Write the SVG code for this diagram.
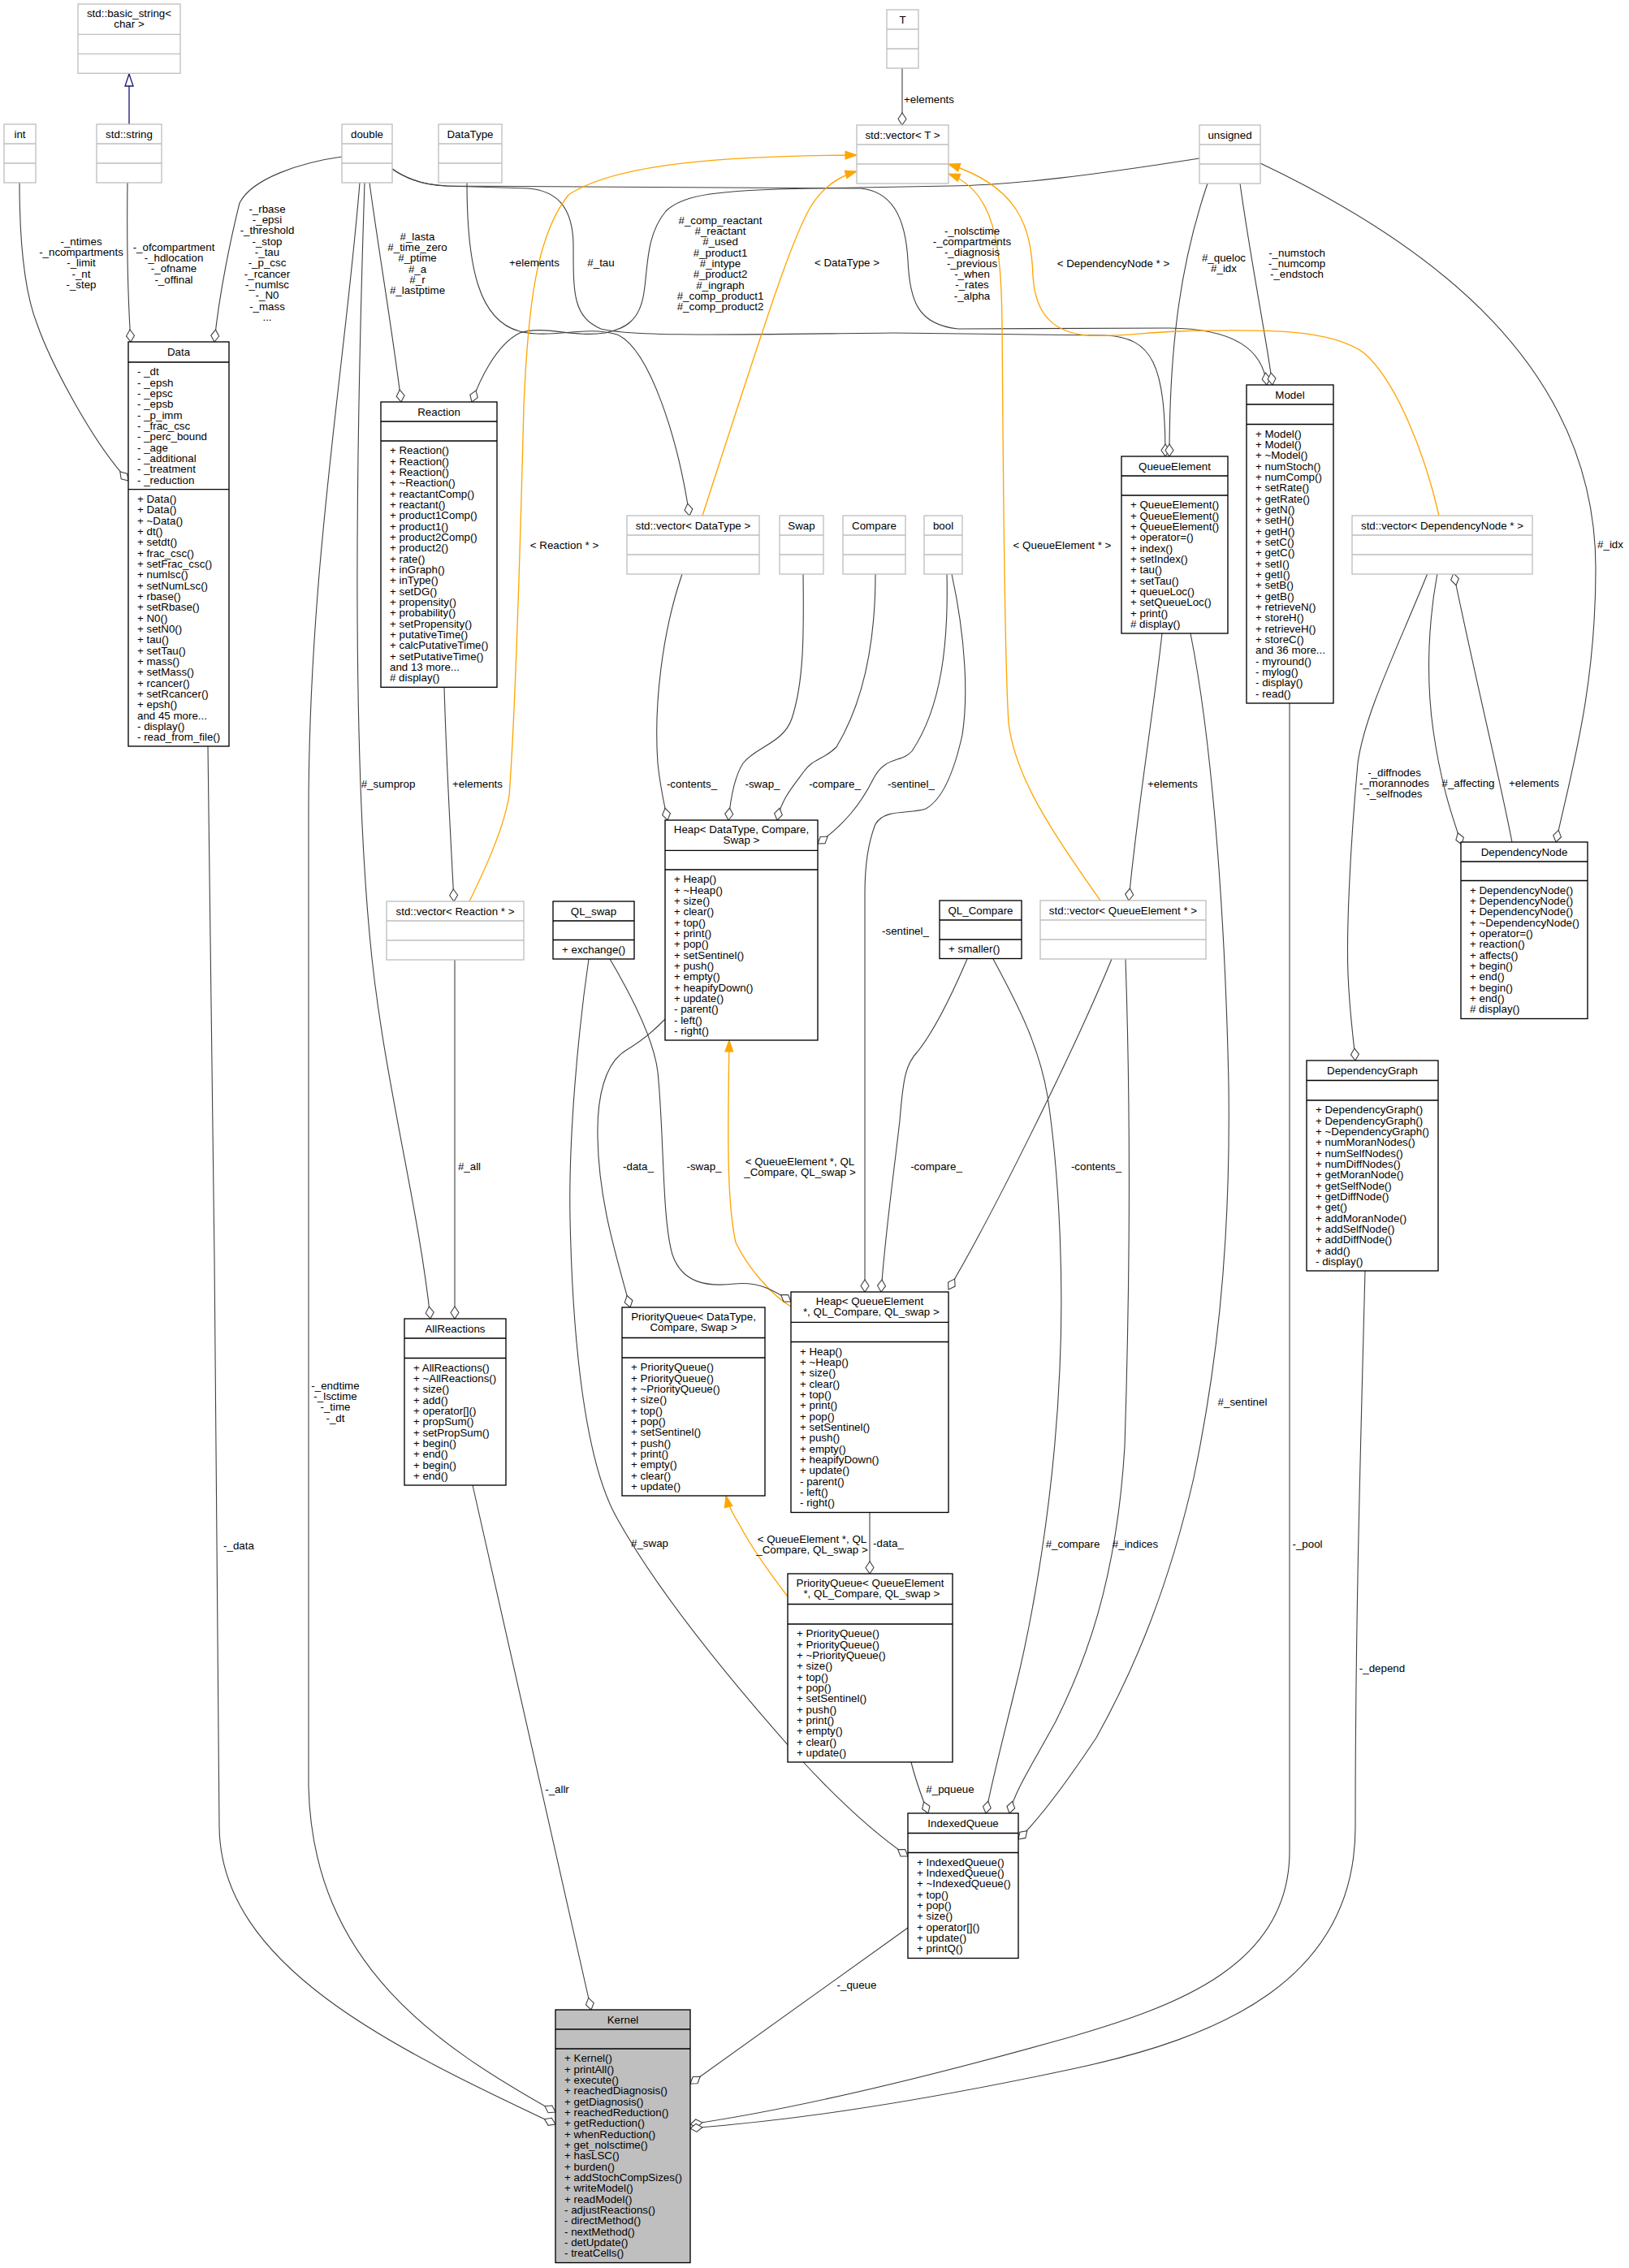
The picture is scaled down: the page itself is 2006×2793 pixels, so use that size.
<svg xmlns="http://www.w3.org/2000/svg" width="2006" height="2793" viewBox="0 0 2006 2793">
<style>
.b{fill:#fff;stroke:#000;stroke-width:1.33}
.g{fill:#fff;stroke:#bfbfbf;stroke-width:1.33}
.k{fill:#bfbfbf;stroke:#000;stroke-width:1.33}
.sb{fill:none;stroke:#000;stroke-width:1.33}
.sg{fill:none;stroke:#bfbfbf;stroke-width:1.33}
text{font-family:"Liberation Sans",Arial,Helvetica,sans-serif;font-size:13.33px;fill:#000}
.c{text-anchor:middle}
.e{fill:none;stroke:#404040;stroke-width:1.1;marker-end:url(#d)}
.o{fill:none;stroke:#ffa500;stroke-width:1.33;marker-end:url(#a)}
.i{fill:none;stroke:#191970;stroke-width:1.33;marker-end:url(#t)}
</style>
<defs>
<marker id="d" markerUnits="userSpaceOnUse" viewBox="-16 -6 17 12" markerWidth="17" markerHeight="12" refX="0" refY="0" orient="auto"><path d="M0,0 L-7.5,-5 L-15,0 L-7.5,5 Z" fill="#fff" stroke="#404040" stroke-width="1.1"/></marker>
<marker id="a" markerUnits="userSpaceOnUse" viewBox="-16 -7 17 14" markerWidth="17" markerHeight="14" refX="0" refY="0" orient="auto"><path d="M0,0 L-14,-5 L-14,5 Z" fill="#ffa500" stroke="#ffa500" stroke-width="1"/></marker>
<marker id="t" markerUnits="userSpaceOnUse" viewBox="-17 -7 18 14" markerWidth="18" markerHeight="14" refX="0" refY="0" orient="auto"><path d="M0,0 L-15,-5 L-15,5 Z" fill="#fff" stroke="#191970" stroke-width="1.33"/></marker>
</defs>
<rect width="2006" height="2793" fill="#fff"/>

<g id="edges">
<path class="i" d="M159,153 L159,91"/>
<path class="e" d="M1111,84 L1111,154"/>
<path class="e" d="M24,225 C24,300 30,360 46,400 C60,440 110,540 158,592"/>
<path class="e" d="M157,225 C156,300 157,360 161,421"/>
<path class="e" d="M421,193 C370,200 310,220 295,250 C285,290 270,360 264,421"/>
<path class="e" d="M455,225 C465,300 485,420 494,495"/>
<path class="e" d="M449,225 C440,500 432,900 455,1150 C470,1320 515,1480 530,1624"/>
<path class="e" d="M443,225 C425,450 380,700 380,1000 L380,2200 C385,2420 540,2520 684,2601"/>
<path class="e" d="M256,919 C262,1300 268,1900 270,2250 C272,2420 480,2520 684,2616"/>
<path class="e" d="M575,225 C575,330 590,395 640,408 C680,418 720,400 760,412 C800,430 835,540 849,635"/>
<path class="e" d="M1477,195 C1350,215 1250,228 1170,229 L1000,232 C880,234 840,240 820,260 C795,290 798,330 793,360 C788,395 770,405 745,410 C705,416 670,400 640,410 C610,425 590,470 581,495"/>
<path class="e" d="M483,208 C500,220 520,228 550,229 L650,232 C690,235 705,260 706,300 C706,360 705,390 740,405 C780,415 900,412 1100,410 L1360,413 C1420,415 1435,450 1435,562"/>
<path class="e" d="M483,208 C500,220 520,228 550,229 L1060,232 C1100,236 1115,270 1118,320 C1120,370 1130,400 1180,405 L1440,404 C1520,405 1555,430 1560,474"/>
<path class="e" d="M1487,226 C1455,320 1440,420 1440,562"/>
<path class="e" d="M1527,226 C1540,320 1560,420 1567,474"/>
<path class="e" d="M1552,201 C1760,300 1965,450 1965,700 C1965,850 1935,950 1916,1037"/>
<path class="o" d="M578,1110 C600,1065 620,1020 627,980 C633,900 640,700 645,500 C650,380 660,290 700,240 C760,200 900,192 1055,191"/>
<path class="o" d="M865,635 L912,490 C945,390 975,295 998,255 C1012,232 1030,218 1055,211"/>
<path class="o" d="M1772,635 C1755,560 1720,470 1680,435 C1640,405 1560,405 1450,408 C1400,410 1380,415 1340,413 C1300,410 1275,390 1272,340 C1270,280 1255,230 1168,202"/>
<path class="o" d="M1355,1109 C1300,1030 1250,960 1242,890 C1236,800 1235,500 1234,400 C1233,300 1225,235 1168,214"/>
<path class="o" d="M974,1609 C950,1595 920,1560 906,1530 C895,1480 896,1400 898,1281"/>
<path class="o" d="M970,1966 C950,1940 925,1905 912,1880 C903,1865 897,1855 894,1842"/>
<path class="e" d="M547,846 C550,950 556,1050 559,1110"/>
<path class="e" d="M560,1181 L560,1624"/>
<path class="e" d="M840,707 C815,780 805,870 810,940 C813,970 818,990 822,1010"/>
<path class="e" d="M989,706 C990,780 990,840 975,885 C965,915 930,920 915,940 C905,955 900,980 897,1010"/>
<path class="e" d="M1078,707 C1078,800 1060,870 1030,920 C1015,935 1000,935 990,950 C975,970 962,985 957,1010"/>
<path class="e" d="M1166,707 C1168,790 1160,870 1123,925 C1110,940 1090,930 1075,960 C1060,990 1040,1015 1007,1039"/>
<path class="e" d="M1172,707 C1190,790 1192,860 1185,905 C1175,950 1160,985 1140,996 C1120,1003 1090,995 1078,1015 C1068,1040 1065,1070 1065,1100 L1065,1591"/>
<path class="e" d="M751,1181 C780,1230 805,1280 810,1320 C818,1400 815,1500 828,1545 C840,1580 870,1585 905,1581 C935,1578 955,1590 974,1603"/>
<path class="e" d="M819,1255 C800,1275 785,1285 770,1294 C745,1310 735,1350 736,1400 C737,1480 760,1550 776,1610"/>
<path class="e" d="M1191,1181 C1170,1230 1150,1270 1130,1295 C1115,1310 1112,1330 1108,1380 C1100,1450 1090,1520 1085,1591"/>
<path class="e" d="M1369,1181 C1320,1300 1220,1500 1168,1588"/>
<path class="e" d="M1071,1863 L1071,1938"/>
<path class="e" d="M1122,2170 C1128,2195 1136,2215 1143,2233"/>
<path class="e" d="M725,1181 C712,1270 700,1400 702,1500 C705,1650 720,1800 760,1870 C810,1960 900,2070 980,2160 C1030,2215 1080,2260 1118,2286"/>
<path class="e" d="M1223,1181 C1255,1240 1280,1290 1290,1350 C1305,1450 1310,1580 1305,1686 C1298,1850 1270,2000 1250,2080 C1238,2130 1222,2190 1214,2233"/>
<path class="e" d="M1386,1181 C1390,1300 1394,1500 1385,1781 C1375,1950 1335,2050 1300,2120 C1270,2175 1250,2205 1243,2233"/>
<path class="e" d="M1466,780 C1490,900 1508,1100 1513,1335 C1516,1550 1495,1700 1470,1820 C1440,1950 1400,2050 1350,2140 C1310,2200 1280,2240 1254,2265"/>
<path class="e" d="M1431,780 C1420,880 1400,1000 1390,1109"/>
<path class="e" d="M1588,866 L1588,2280 C1588,2420 1450,2470 1320,2508 C1100,2570 960,2600 850,2616"/>
<path class="e" d="M1681,1565 C1675,1800 1669,2000 1669,2250 C1669,2440 1500,2510 1320,2548 C1100,2595 960,2612 850,2621"/>
<path class="e" d="M1118,2374 L850,2566"/>
<path class="e" d="M582,1829 L728,2475"/>
<path class="e" d="M1758,706 C1720,800 1680,880 1672,940 C1662,1050 1658,1150 1660,1200 C1662,1250 1667,1280 1669,1306"/>
<path class="e" d="M1770,706 C1760,760 1755,830 1765,900 C1775,970 1790,1010 1800,1040"/>
<path class="e" d="M1862,1037 C1845,950 1820,850 1790,706"/>
</g>

<g id="labels" class="c">
<text x="100" y="301.7">-_ntimes<tspan x="100" dy="13.33">-_ncompartments</tspan><tspan x="100" dy="13.33">-_limit</tspan><tspan x="100" dy="13.33">-_nt</tspan><tspan x="100" dy="13.33">-_step</tspan></text>
<text x="214" y="308.7">-_ofcompartment<tspan x="214" dy="13.33">-_hdlocation</tspan><tspan x="214" dy="13.33">-_ofname</tspan><tspan x="214" dy="13.33">-_offinal</tspan></text>
<text x="329" y="261.7">-_rbase<tspan x="329" dy="13.33">-_epsi</tspan><tspan x="329" dy="13.33">-_threshold</tspan><tspan x="329" dy="13.33">-_stop</tspan><tspan x="329" dy="13.33">-_tau</tspan><tspan x="329" dy="13.33">-_p_csc</tspan><tspan x="329" dy="13.33">-_rcancer</tspan><tspan x="329" dy="13.33">-_numlsc</tspan><tspan x="329" dy="13.33">-_N0</tspan><tspan x="329" dy="13.33">-_mass</tspan><tspan x="329" dy="13.33">...</tspan></text>
<text x="514" y="295.7">#_lasta<tspan x="514" dy="13.33">#_time_zero</tspan><tspan x="514" dy="13.33">#_ptime</tspan><tspan x="514" dy="13.33">#_a</tspan><tspan x="514" dy="13.33">#_r</tspan><tspan x="514" dy="13.33">#_lastptime</tspan></text>
<text x="478" y="969.7">#_sumprop</text>
<text x="413" y="1710.7">-_endtime<tspan x="413" dy="13.33">-_lsctime</tspan><tspan x="413" dy="13.33">-_time</tspan><tspan x="413" dy="13.33">-_dt</tspan></text>
<text x="294" y="1907.7">-_data</text>
<text x="658" y="327.7">+elements</text>
<text x="887" y="275.7">#_comp_reactant<tspan x="887" dy="13.33">#_reactant</tspan><tspan x="887" dy="13.33">#_used</tspan><tspan x="887" dy="13.33">#_product1</tspan><tspan x="887" dy="13.33">#_intype</tspan><tspan x="887" dy="13.33">#_product2</tspan><tspan x="887" dy="13.33">#_ingraph</tspan><tspan x="887" dy="13.33">#_comp_product1</tspan><tspan x="887" dy="13.33">#_comp_product2</tspan></text>
<text x="740" y="327.7">#_tau</text>
<text x="1197" y="288.7">-_nolsctime<tspan x="1197" dy="13.33">-_compartments</tspan><tspan x="1197" dy="13.33">-_diagnosis</tspan><tspan x="1197" dy="13.33">-_previous</tspan><tspan x="1197" dy="13.33">-_when</tspan><tspan x="1197" dy="13.33">-_rates</tspan><tspan x="1197" dy="13.33">-_alpha</tspan></text>
<text x="1507" y="321.7">#_queloc<tspan x="1507" dy="13.33">#_idx</tspan></text>
<text x="1597" y="315.7">-_numstoch<tspan x="1597" dy="13.33">-_numcomp</tspan><tspan x="1597" dy="13.33">-_endstoch</tspan></text>
<text x="1983" y="674.7">#_idx</text>
<text x="1144" y="126.7">+elements</text>
<text x="695" y="675.7">&lt; Reaction * &gt;</text>
<text x="1043" y="327.7">&lt; DataType &gt;</text>
<text x="1371" y="328.7">&lt; DependencyNode * &gt;</text>
<text x="1308" y="675.7">&lt; QueueElement * &gt;</text>
<text x="985" y="1434.7">&lt; QueueElement *, QL<tspan x="985" dy="13.33">_Compare, QL_swap &gt;</tspan></text>
<text x="1000" y="1899.7">&lt; QueueElement *, QL<tspan x="1000" dy="13.33">_Compare, QL_swap &gt;</tspan></text>
<text x="588" y="969.7">+elements</text>
<text x="578" y="1440.7">#_all</text>
<text x="852" y="969.7">-contents_</text>
<text x="939" y="969.7">-swap_</text>
<text x="1028" y="969.7">-compare_</text>
<text x="1122" y="969.7">-sentinel_</text>
<text x="1115" y="1150.7">-sentinel_</text>
<text x="867" y="1440.7">-swap_</text>
<text x="786" y="1440.7">-data_</text>
<text x="1153" y="1440.7">-compare_</text>
<text x="1350" y="1440.7">-contents_</text>
<text x="1094" y="1904.7">-data_</text>
<text x="1170" y="2207.7">#_pqueue</text>
<text x="800" y="1904.7">#_swap</text>
<text x="1321" y="1905.7">#_compare</text>
<text x="1398" y="1905.7">#_indices</text>
<text x="1530" y="1730.7">#_sentinel</text>
<text x="1444" y="969.7">+elements</text>
<text x="1610" y="1905.7">-_pool</text>
<text x="1702" y="2058.7">-_depend</text>
<text x="1055" y="2448.7">-_queue</text>
<text x="686" y="2207.7">-_allr</text>
<text x="1717" y="955.7">-_diffnodes<tspan x="1717" dy="13.33">-_morannodes</tspan><tspan x="1717" dy="13.33">-_selfnodes</tspan></text>
<text x="1808" y="968.7">#_affecting</text>
<text x="1889" y="968.7">+elements</text>
</g>

<g id="n_basic_string"><rect class="g" x="96" y="5" width="126" height="85.3"/><path class="sg" d="M96,42.3H222M96,66.3H222"/><text class="c" x="159" y="21">std::basic_string&lt;<tspan x="159" dy="13.33">char &gt;</tspan></text></g>
<g id="n_int"><rect class="g" x="5" y="153" width="39" height="72"/><path class="sg" d="M5,177H44M5,201H44"/><text class="c" x="24.5" y="169.5">int</text></g>
<g id="n_string"><rect class="g" x="119" y="153" width="80" height="72"/><path class="sg" d="M119,177H199M119,201H199"/><text class="c" x="159" y="169.5">std::string</text></g>
<g id="n_double"><rect class="g" x="421" y="153" width="62" height="72"/><path class="sg" d="M421,177H483M421,201H483"/><text class="c" x="452" y="169.5">double</text></g>
<g id="n_DataType"><rect class="g" x="540" y="153" width="78" height="72"/><path class="sg" d="M540,177H618M540,201H618"/><text class="c" x="579" y="169.5">DataType</text></g>
<g id="n_T"><rect class="g" x="1092" y="12" width="39" height="72"/><path class="sg" d="M1092,36H1131M1092,60H1131"/><text class="c" x="1111.5" y="28.5">T</text></g>
<g id="n_vectorT"><rect class="g" x="1055" y="154" width="113" height="72"/><path class="sg" d="M1055,178H1168M1055,202H1168"/><text class="c" x="1111.5" y="170.5">std::vector&lt; T &gt;</text></g>
<g id="n_unsigned"><rect class="g" x="1477" y="154" width="75" height="72"/><path class="sg" d="M1477,178H1552M1477,202H1552"/><text class="c" x="1514.5" y="170.5">unsigned</text></g>
<g id="n_vectorDataType"><rect class="g" x="772" y="635" width="163" height="72"/><path class="sg" d="M772,659H935M772,683H935"/><text class="c" x="853.5" y="651.5">std::vector&lt; DataType &gt;</text></g>
<g id="n_Swap"><rect class="g" x="960" y="635" width="54" height="72"/><path class="sg" d="M960,659H1014M960,683H1014"/><text class="c" x="987" y="651.5">Swap</text></g>
<g id="n_Compare"><rect class="g" x="1038" y="635" width="77" height="72"/><path class="sg" d="M1038,659H1115M1038,683H1115"/><text class="c" x="1076.5" y="651.5">Compare</text></g>
<g id="n_bool"><rect class="g" x="1138" y="635" width="47" height="72"/><path class="sg" d="M1138,659H1185M1138,683H1185"/><text class="c" x="1161.5" y="651.5">bool</text></g>
<g id="n_vectorDN"><rect class="g" x="1665" y="635" width="222" height="72"/><path class="sg" d="M1665,659H1887M1665,683H1887"/><text class="c" x="1776" y="651.5">std::vector&lt; DependencyNode * &gt;</text></g>
<g id="n_vectorReaction"><rect class="g" x="476" y="1110" width="169" height="72"/><path class="sg" d="M476,1134H645M476,1158H645"/><text class="c" x="560.5" y="1126.5">std::vector&lt; Reaction * &gt;</text></g>
<g id="n_vectorQE"><rect class="g" x="1281" y="1109" width="204" height="72"/><path class="sg" d="M1281,1133H1485M1281,1157H1485"/><text class="c" x="1383" y="1125.5">std::vector&lt; QueueElement * &gt;</text></g>

<g id="n_Data"><rect class="b" x="158" y="421" width="124" height="498"/><path class="sb" d="M158,446H282M158,602.6H282"/><text class="c" x="220" y="437.5">Data</text>
<text x="169" y="462.3">- _dt<tspan x="169" dy="13.33">- _epsh</tspan><tspan x="169" dy="13.33">- _epsc</tspan><tspan x="169" dy="13.33">- _epsb</tspan><tspan x="169" dy="13.33">- _p_imm</tspan><tspan x="169" dy="13.33">- _frac_csc</tspan><tspan x="169" dy="13.33">- _perc_bound</tspan><tspan x="169" dy="13.33">- _age</tspan><tspan x="169" dy="13.33">- _additional</tspan><tspan x="169" dy="13.33">- _treatment</tspan><tspan x="169" dy="13.33">- _reduction</tspan></text>
<text x="169" y="618.9">+ Data()<tspan x="169" dy="13.33">+ Data()</tspan><tspan x="169" dy="13.33">+ ~Data()</tspan><tspan x="169" dy="13.33">+ dt()</tspan><tspan x="169" dy="13.33">+ setdt()</tspan><tspan x="169" dy="13.33">+ frac_csc()</tspan><tspan x="169" dy="13.33">+ setFrac_csc()</tspan><tspan x="169" dy="13.33">+ numlsc()</tspan><tspan x="169" dy="13.33">+ setNumLsc()</tspan><tspan x="169" dy="13.33">+ rbase()</tspan><tspan x="169" dy="13.33">+ setRbase()</tspan><tspan x="169" dy="13.33">+ N0()</tspan><tspan x="169" dy="13.33">+ setN0()</tspan><tspan x="169" dy="13.33">+ tau()</tspan><tspan x="169" dy="13.33">+ setTau()</tspan><tspan x="169" dy="13.33">+ mass()</tspan><tspan x="169" dy="13.33">+ setMass()</tspan><tspan x="169" dy="13.33">+ rcancer()</tspan><tspan x="169" dy="13.33">+ setRcancer()</tspan><tspan x="169" dy="13.33">+ epsh()</tspan><tspan x="169" dy="13.33">and 45 more...</tspan><tspan x="169" dy="13.33">- display()</tspan><tspan x="169" dy="13.33">- read_from_file()</tspan></text></g>

<g id="n_Reaction"><rect class="b" x="469" y="495" width="143" height="351.3"/><path class="sb" d="M469,519H612M469,543H612"/><text class="c" x="540.5" y="511.5">Reaction</text>
<text x="480" y="559.3">+ Reaction()<tspan x="480" dy="13.33">+ Reaction()</tspan><tspan x="480" dy="13.33">+ Reaction()</tspan><tspan x="480" dy="13.33">+ ~Reaction()</tspan><tspan x="480" dy="13.33">+ reactantComp()</tspan><tspan x="480" dy="13.33">+ reactant()</tspan><tspan x="480" dy="13.33">+ product1Comp()</tspan><tspan x="480" dy="13.33">+ product1()</tspan><tspan x="480" dy="13.33">+ product2Comp()</tspan><tspan x="480" dy="13.33">+ product2()</tspan><tspan x="480" dy="13.33">+ rate()</tspan><tspan x="480" dy="13.33">+ inGraph()</tspan><tspan x="480" dy="13.33">+ inType()</tspan><tspan x="480" dy="13.33">+ setDG()</tspan><tspan x="480" dy="13.33">+ propensity()</tspan><tspan x="480" dy="13.33">+ probability()</tspan><tspan x="480" dy="13.33">+ setPropensity()</tspan><tspan x="480" dy="13.33">+ putativeTime()</tspan><tspan x="480" dy="13.33">+ calcPutativeTime()</tspan><tspan x="480" dy="13.33">+ setPutativeTime()</tspan><tspan x="480" dy="13.33">and 13 more...</tspan><tspan x="480" dy="13.33"># display()</tspan></text></g>

<g id="n_QueueElement"><rect class="b" x="1381" y="562" width="131" height="218"/><path class="sb" d="M1381,586H1512M1381,610H1512"/><text class="c" x="1446.5" y="578.5">QueueElement</text>
<text x="1392" y="626.3">+ QueueElement()<tspan x="1392" dy="13.33">+ QueueElement()</tspan><tspan x="1392" dy="13.33">+ QueueElement()</tspan><tspan x="1392" dy="13.33">+ operator=()</tspan><tspan x="1392" dy="13.33">+ index()</tspan><tspan x="1392" dy="13.33">+ setIndex()</tspan><tspan x="1392" dy="13.33">+ tau()</tspan><tspan x="1392" dy="13.33">+ setTau()</tspan><tspan x="1392" dy="13.33">+ queueLoc()</tspan><tspan x="1392" dy="13.33">+ setQueueLoc()</tspan><tspan x="1392" dy="13.33">+ print()</tspan><tspan x="1392" dy="13.33"># display()</tspan></text></g>

<g id="n_Model"><rect class="b" x="1535" y="474" width="107" height="392"/><path class="sb" d="M1535,498H1642M1535,522.5H1642"/><text class="c" x="1588.5" y="490.5">Model</text>
<text x="1546" y="538.8">+ Model()<tspan x="1546" dy="13.33">+ Model()</tspan><tspan x="1546" dy="13.33">+ ~Model()</tspan><tspan x="1546" dy="13.33">+ numStoch()</tspan><tspan x="1546" dy="13.33">+ numComp()</tspan><tspan x="1546" dy="13.33">+ setRate()</tspan><tspan x="1546" dy="13.33">+ getRate()</tspan><tspan x="1546" dy="13.33">+ getN()</tspan><tspan x="1546" dy="13.33">+ setH()</tspan><tspan x="1546" dy="13.33">+ getH()</tspan><tspan x="1546" dy="13.33">+ setC()</tspan><tspan x="1546" dy="13.33">+ getC()</tspan><tspan x="1546" dy="13.33">+ setI()</tspan><tspan x="1546" dy="13.33">+ getI()</tspan><tspan x="1546" dy="13.33">+ setB()</tspan><tspan x="1546" dy="13.33">+ getB()</tspan><tspan x="1546" dy="13.33">+ retrieveN()</tspan><tspan x="1546" dy="13.33">+ storeH()</tspan><tspan x="1546" dy="13.33">+ retrieveH()</tspan><tspan x="1546" dy="13.33">+ storeC()</tspan><tspan x="1546" dy="13.33">and 36 more...</tspan><tspan x="1546" dy="13.33">- myround()</tspan><tspan x="1546" dy="13.33">- mylog()</tspan><tspan x="1546" dy="13.33">- display()</tspan><tspan x="1546" dy="13.33">- read()</tspan></text></g>

<g id="n_DependencyNode"><rect class="b" x="1799" y="1037" width="156" height="217.5"/><path class="sb" d="M1799,1061H1955M1799,1084.5H1955"/><text class="c" x="1877" y="1053.5">DependencyNode</text>
<text x="1810" y="1100.8">+ DependencyNode()<tspan x="1810" dy="13.33">+ DependencyNode()</tspan><tspan x="1810" dy="13.33">+ DependencyNode()</tspan><tspan x="1810" dy="13.33">+ ~DependencyNode()</tspan><tspan x="1810" dy="13.33">+ operator=()</tspan><tspan x="1810" dy="13.33">+ reaction()</tspan><tspan x="1810" dy="13.33">+ affects()</tspan><tspan x="1810" dy="13.33">+ begin()</tspan><tspan x="1810" dy="13.33">+ end()</tspan><tspan x="1810" dy="13.33">+ begin()</tspan><tspan x="1810" dy="13.33">+ end()</tspan><tspan x="1810" dy="13.33"># display()</tspan></text></g>

<g id="n_QL_swap"><rect class="b" x="681" y="1110" width="100" height="71"/><path class="sb" d="M681,1134H781M681,1157.5H781"/><text class="c" x="731" y="1126.5">QL_swap</text><text x="692" y="1173.8">+ exchange()</text></g>

<g id="n_HeapDT"><rect class="b" x="819" y="1010" width="188" height="271"/><path class="sb" d="M819,1047.3H1007M819,1071H1007"/><text class="c" x="913" y="1026">Heap&lt; DataType, Compare,<tspan x="913" dy="13.33">Swap &gt;</tspan></text>
<text x="830" y="1087.3">+ Heap()<tspan x="830" dy="13.33">+ ~Heap()</tspan><tspan x="830" dy="13.33">+ size()</tspan><tspan x="830" dy="13.33">+ clear()</tspan><tspan x="830" dy="13.33">+ top()</tspan><tspan x="830" dy="13.33">+ print()</tspan><tspan x="830" dy="13.33">+ pop()</tspan><tspan x="830" dy="13.33">+ setSentinel()</tspan><tspan x="830" dy="13.33">+ push()</tspan><tspan x="830" dy="13.33">+ empty()</tspan><tspan x="830" dy="13.33">+ heapifyDown()</tspan><tspan x="830" dy="13.33">+ update()</tspan><tspan x="830" dy="13.33">- parent()</tspan><tspan x="830" dy="13.33">- left()</tspan><tspan x="830" dy="13.33">- right()</tspan></text></g>

<g id="n_QL_Compare"><rect class="b" x="1157" y="1109" width="101" height="71.5"/><path class="sb" d="M1157,1133H1258M1157,1157H1258"/><text class="c" x="1207.5" y="1125.5">QL_Compare</text><text x="1168" y="1173.3">+ smaller()</text></g>

<g id="n_DependencyGraph"><rect class="b" x="1609" y="1306" width="162" height="259"/><path class="sb" d="M1609,1330.5H1771M1609,1355H1771"/><text class="c" x="1690" y="1322.5">DependencyGraph</text>
<text x="1620" y="1371.3">+ DependencyGraph()<tspan x="1620" dy="13.33">+ DependencyGraph()</tspan><tspan x="1620" dy="13.33">+ ~DependencyGraph()</tspan><tspan x="1620" dy="13.33">+ numMoranNodes()</tspan><tspan x="1620" dy="13.33">+ numSelfNodes()</tspan><tspan x="1620" dy="13.33">+ numDiffNodes()</tspan><tspan x="1620" dy="13.33">+ getMoranNode()</tspan><tspan x="1620" dy="13.33">+ getSelfNode()</tspan><tspan x="1620" dy="13.33">+ getDiffNode()</tspan><tspan x="1620" dy="13.33">+ get()</tspan><tspan x="1620" dy="13.33">+ addMoranNode()</tspan><tspan x="1620" dy="13.33">+ addSelfNode()</tspan><tspan x="1620" dy="13.33">+ addDiffNode()</tspan><tspan x="1620" dy="13.33">+ add()</tspan><tspan x="1620" dy="13.33">- display()</tspan></text></g>

<g id="n_AllReactions"><rect class="b" x="498" y="1624" width="125" height="205"/><path class="sb" d="M498,1648H623M498,1672.5H623"/><text class="c" x="560.5" y="1640.5">AllReactions</text>
<text x="509" y="1688.8">+ AllReactions()<tspan x="509" dy="13.33">+ ~AllReactions()</tspan><tspan x="509" dy="13.33">+ size()</tspan><tspan x="509" dy="13.33">+ add()</tspan><tspan x="509" dy="13.33">+ operator[]()</tspan><tspan x="509" dy="13.33">+ propSum()</tspan><tspan x="509" dy="13.33">+ setPropSum()</tspan><tspan x="509" dy="13.33">+ begin()</tspan><tspan x="509" dy="13.33">+ end()</tspan><tspan x="509" dy="13.33">+ begin()</tspan><tspan x="509" dy="13.33">+ end()</tspan></text></g>

<g id="n_PQDT"><rect class="b" x="766" y="1610" width="176" height="232"/><path class="sb" d="M766,1647.5H942M766,1672H942"/><text class="c" x="854" y="1626">PriorityQueue&lt; DataType,<tspan x="854" dy="13.33">Compare, Swap &gt;</tspan></text>
<text x="777" y="1688.3">+ PriorityQueue()<tspan x="777" dy="13.33">+ PriorityQueue()</tspan><tspan x="777" dy="13.33">+ ~PriorityQueue()</tspan><tspan x="777" dy="13.33">+ size()</tspan><tspan x="777" dy="13.33">+ top()</tspan><tspan x="777" dy="13.33">+ pop()</tspan><tspan x="777" dy="13.33">+ setSentinel()</tspan><tspan x="777" dy="13.33">+ push()</tspan><tspan x="777" dy="13.33">+ print()</tspan><tspan x="777" dy="13.33">+ empty()</tspan><tspan x="777" dy="13.33">+ clear()</tspan><tspan x="777" dy="13.33">+ update()</tspan></text></g>

<g id="n_HeapQE"><rect class="b" x="974" y="1591" width="194" height="271.5"/><path class="sb" d="M974,1628.3H1168M974,1652.5H1168"/><text class="c" x="1071" y="1607">Heap&lt; QueueElement<tspan x="1071" dy="13.33"> *, QL_Compare, QL_swap &gt;</tspan></text>
<text x="985" y="1668.8">+ Heap()<tspan x="985" dy="13.33">+ ~Heap()</tspan><tspan x="985" dy="13.33">+ size()</tspan><tspan x="985" dy="13.33">+ clear()</tspan><tspan x="985" dy="13.33">+ top()</tspan><tspan x="985" dy="13.33">+ print()</tspan><tspan x="985" dy="13.33">+ pop()</tspan><tspan x="985" dy="13.33">+ setSentinel()</tspan><tspan x="985" dy="13.33">+ push()</tspan><tspan x="985" dy="13.33">+ empty()</tspan><tspan x="985" dy="13.33">+ heapifyDown()</tspan><tspan x="985" dy="13.33">+ update()</tspan><tspan x="985" dy="13.33">- parent()</tspan><tspan x="985" dy="13.33">- left()</tspan><tspan x="985" dy="13.33">- right()</tspan></text></g>

<g id="n_PQQE"><rect class="b" x="970" y="1938" width="203" height="232"/><path class="sb" d="M970,1975.5H1173M970,2000H1173"/><text class="c" x="1071.5" y="1954">PriorityQueue&lt; QueueElement<tspan x="1071.5" dy="13.33"> *, QL_Compare, QL_swap &gt;</tspan></text>
<text x="981" y="2016.3">+ PriorityQueue()<tspan x="981" dy="13.33">+ PriorityQueue()</tspan><tspan x="981" dy="13.33">+ ~PriorityQueue()</tspan><tspan x="981" dy="13.33">+ size()</tspan><tspan x="981" dy="13.33">+ top()</tspan><tspan x="981" dy="13.33">+ pop()</tspan><tspan x="981" dy="13.33">+ setSentinel()</tspan><tspan x="981" dy="13.33">+ push()</tspan><tspan x="981" dy="13.33">+ print()</tspan><tspan x="981" dy="13.33">+ empty()</tspan><tspan x="981" dy="13.33">+ clear()</tspan><tspan x="981" dy="13.33">+ update()</tspan></text></g>

<g id="n_IndexedQueue"><rect class="b" x="1118" y="2233" width="136" height="178.5"/><path class="sb" d="M1118,2257.5H1254M1118,2281.5H1254"/><text class="c" x="1186" y="2249.5">IndexedQueue</text>
<text x="1129" y="2297.8">+ IndexedQueue()<tspan x="1129" dy="13.33">+ IndexedQueue()</tspan><tspan x="1129" dy="13.33">+ ~IndexedQueue()</tspan><tspan x="1129" dy="13.33">+ top()</tspan><tspan x="1129" dy="13.33">+ pop()</tspan><tspan x="1129" dy="13.33">+ size()</tspan><tspan x="1129" dy="13.33">+ operator[]()</tspan><tspan x="1129" dy="13.33">+ update()</tspan><tspan x="1129" dy="13.33">+ printQ()</tspan></text></g>

<g id="n_Kernel"><rect class="k" x="684" y="2475" width="166" height="311.5"/><path class="sb" d="M684,2499H850M684,2523H850"/><text class="c" x="767" y="2491.5">Kernel</text>
<text x="695" y="2539.3">+ Kernel()<tspan x="695" dy="13.33">+ printAll()</tspan><tspan x="695" dy="13.33">+ execute()</tspan><tspan x="695" dy="13.33">+ reachedDiagnosis()</tspan><tspan x="695" dy="13.33">+ getDiagnosis()</tspan><tspan x="695" dy="13.33">+ reachedReduction()</tspan><tspan x="695" dy="13.33">+ getReduction()</tspan><tspan x="695" dy="13.33">+ whenReduction()</tspan><tspan x="695" dy="13.33">+ get_nolsctime()</tspan><tspan x="695" dy="13.33">+ hasLSC()</tspan><tspan x="695" dy="13.33">+ burden()</tspan><tspan x="695" dy="13.33">+ addStochCompSizes()</tspan><tspan x="695" dy="13.33">+ writeModel()</tspan><tspan x="695" dy="13.33">+ readModel()</tspan><tspan x="695" dy="13.33">- adjustReactions()</tspan><tspan x="695" dy="13.33">- directMethod()</tspan><tspan x="695" dy="13.33">- nextMethod()</tspan><tspan x="695" dy="13.33">- detUpdate()</tspan><tspan x="695" dy="13.33">- treatCells()</tspan></text></g>
</svg>
